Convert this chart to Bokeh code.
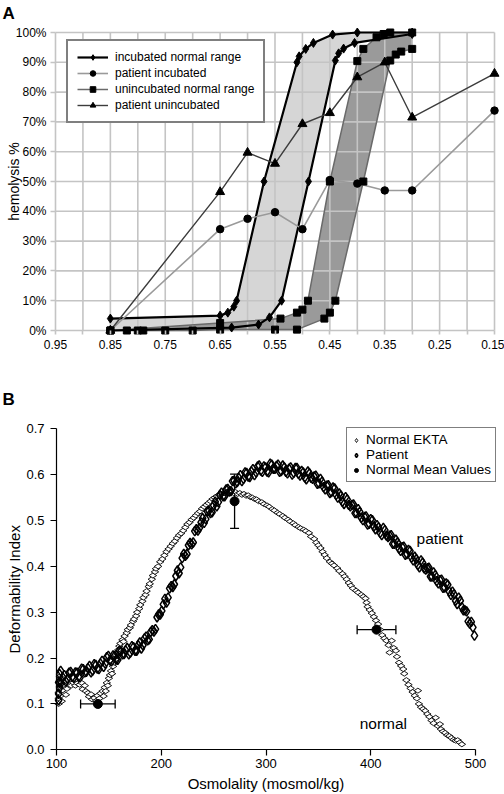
import math
from bokeh.plotting import figure
from bokeh.models import (Range1d, FixedTicker, NumeralTickFormatter, PrintfTickFormatter,
                          ColumnDataSource, Legend, LegendItem, Label, Whisker, TeeHead)
from bokeh.layouts import column
from bokeh.embed import file_html
from bokeh.resources import INLINE

FONT = "Liberation Sans"

# ---------------- Panel A data ----------------
x_label_ticks = [0.95, 0.85, 0.75, 0.65, 0.55, 0.45, 0.35, 0.25, 0.15]
x_grid_ticks = [0.95, 0.90, 0.85, 0.80, 0.75, 0.70, 0.65, 0.60, 0.55, 0.50,
                0.45, 0.40, 0.35, 0.30, 0.25, 0.20, 0.15]
y_ticks_a = [0, 10, 20, 30, 40, 50, 60, 70, 80, 90, 100]

inc_upper_x = [0.85, 0.65, 0.636, 0.625, 0.62, 0.57, 0.51, 0.506, 0.494, 0.48, 0.445, 0.40, 0.30]
inc_upper_y = [4, 5, 6, 8, 10, 50, 90, 92, 94.5, 96.5, 99.3, 100, 100]
inc_lower_x = [0.85, 0.629, 0.58, 0.56, 0.538, 0.489, 0.44, 0.434, 0.425, 0.405, 0.30]
inc_lower_y = [0, 1, 2, 4.4, 10, 50, 90.6, 93, 94.6, 96.5, 99.5]

unin_upper_x = [0.85, 0.65, 0.54, 0.51, 0.50, 0.49, 0.45, 0.40, 0.389, 0.365, 0.352, 0.34, 0.30]
unin_upper_y = [0, 2.5, 4, 6, 7, 10, 50, 90.4, 94.5, 98.4, 99.5, 100, 100]
unin_lower_x = [0.85, 0.82, 0.80, 0.79, 0.75, 0.70, 0.65, 0.55, 0.51, 0.46, 0.45, 0.44,
                0.389, 0.34, 0.33, 0.32, 0.30]
unin_lower_y = [0, 0, 0, 0, 0, 0, 0.3, 0.3, 0.3, 4, 6, 10, 50, 90.6, 92.6, 93.6, 94.5]

pat_inc_x = [0.85, 0.65, 0.60, 0.55, 0.50, 0.45, 0.40, 0.35, 0.30, 0.15]
pat_inc_y = [0, 34, 37.5, 39.7, 34, 50.5, 49.3, 47, 47, 73.8]
pat_uninc_x = [0.85, 0.65, 0.60, 0.55, 0.50, 0.45, 0.40, 0.35, 0.30, 0.15]
pat_uninc_y = [0, 46.5, 59.7, 56, 69.3, 73, 85, 90, 71.5, 86.2]

# ---------------- Panel B data ----------------
x_ticks_b = [100, 200, 300, 400, 500]
y_ticks_b = [0.0, 0.1, 0.2, 0.3, 0.4, 0.5, 0.6, 0.7]

normal_pts = [
    (102, 0.100), (102, 0.112), (102, 0.125), (103, 0.138), (103, 0.150), (103, 0.160),
    (104, 0.118), (105, 0.106), (106, 0.130), (107, 0.142), (109, 0.120), (110, 0.133),
    (112, 0.145), (114, 0.140), (116, 0.146), (118, 0.140), (120, 0.145), (122, 0.142),
    (124, 0.146), (125, 0.132), (127, 0.140), (128, 0.128), (130, 0.124), (131, 0.116),
    (133, 0.121), (134, 0.110), (136, 0.113), (138, 0.107), (139, 0.118), (141, 0.112),
    (142, 0.123), (144, 0.128), (145, 0.117), (146, 0.136), (147, 0.128), (148, 0.146),
    (149, 0.140), (150, 0.156), (151, 0.163), (152, 0.172), (153, 0.166), (154, 0.182),
    (155, 0.190), (156, 0.197), (157, 0.205), (158, 0.212), (159, 0.218), (160, 0.226),
    (161, 0.232), (163, 0.240), (164, 0.236), (165, 0.248), (167, 0.255), (168, 0.262),
    (170, 0.266), (171, 0.272), (173, 0.280), (174, 0.285), (176, 0.292), (177, 0.300),
    (179, 0.308), (180, 0.316), (182, 0.324), (183, 0.332), (185, 0.338), (186, 0.346),
    (188, 0.356), (189, 0.362), (191, 0.372), (192, 0.380), (194, 0.388), (195, 0.395),
    (197, 0.400), (199, 0.410), (201, 0.416), (203, 0.424), (205, 0.432), (207, 0.438),
    (209, 0.444), (211, 0.450), (213, 0.455), (215, 0.462), (217, 0.468), (219, 0.472),
    (221, 0.478), (223, 0.485), (225, 0.492), (227, 0.496), (229, 0.502), (231, 0.506),
    (233, 0.511), (235, 0.516), (237, 0.520), (239, 0.526), (241, 0.530), (243, 0.534),
    (245, 0.538), (247, 0.542), (249, 0.547), (251, 0.550), (253, 0.553), (255, 0.556),
    (257, 0.557), (259, 0.560), (261, 0.559), (263, 0.563), (265, 0.562), (267, 0.564),
    (269, 0.560), (271, 0.562), (273, 0.558), (275, 0.560), (277, 0.556), (279, 0.558),
    (281, 0.554), (283, 0.555), (285, 0.551), (287, 0.550), (289, 0.547), (291, 0.546),
    (293, 0.542), (296, 0.540), (298, 0.536), (301, 0.533), (303, 0.530), (306, 0.525),
    (308, 0.522), (311, 0.517), (313, 0.514), (316, 0.510), (318, 0.506), (321, 0.502),
    (323, 0.498), (326, 0.494), (328, 0.490), (331, 0.486), (333, 0.483), (336, 0.480),
    (338, 0.477), (341, 0.473), (343, 0.465), (346, 0.460), (348, 0.452), (350, 0.446),
    (352, 0.440), (354, 0.432), (356, 0.425), (358, 0.418), (361, 0.410), (363, 0.406),
    (365, 0.402), (368, 0.396), (370, 0.390), (373, 0.384), (375, 0.378), (377, 0.372),
    (379, 0.364), (381, 0.358), (383, 0.352), (386, 0.347), (388, 0.343), (391, 0.338),
    (393, 0.334), (395, 0.330), (396, 0.321), (397, 0.312), (399, 0.305), (401, 0.298),
    (403, 0.290), (405, 0.282), (407, 0.274), (409, 0.262), (411, 0.250), (413, 0.243),
    (415, 0.238), (417, 0.228), (418, 0.212), (420, 0.238), (422, 0.222), (424, 0.216),
    (425, 0.203), (427, 0.190), (429, 0.183), (431, 0.176), (432, 0.166), (434, 0.152),
    (436, 0.142), (438, 0.134), (440, 0.126), (442, 0.118), (444, 0.112), (445, 0.129),
    (446, 0.100), (448, 0.093), (450, 0.089), (452, 0.085), (454, 0.078), (456, 0.072),
    (458, 0.064), (460, 0.058), (462, 0.070), (464, 0.052), (466, 0.056), (467, 0.045),
    (469, 0.040), (471, 0.037), (473, 0.032), (475, 0.030), (477, 0.026), (479, 0.022),
    (481, 0.020), (483, 0.021), (485, 0.016), (487, 0.012),
]

patient_pts = [
    (102, 0.108), (102, 0.122), (103, 0.135), (103, 0.165), (104, 0.172), (102, 0.147),
    (103, 0.146), (106, 0.158), (109, 0.149), (112, 0.168), (115, 0.159), (118, 0.169),
    (121, 0.159), (124, 0.177), (127, 0.169), (130, 0.178), (133, 0.169), (136, 0.187),
    (139, 0.177), (142, 0.188), (145, 0.181), (148, 0.202), (151, 0.195), (154, 0.206),
    (157, 0.197), (160, 0.216), (163, 0.208), (166, 0.217), (169, 0.208), (172, 0.226),
    (175, 0.216), (178, 0.228), (181, 0.221), (184, 0.243), (187, 0.239), (190, 0.257),
    (193, 0.258), (196, 0.289), (199, 0.295), (202, 0.317), (205, 0.321), (208, 0.352),
    (211, 0.355), (214, 0.379), (217, 0.385), (220, 0.418), (223, 0.423), (226, 0.446),
    (229, 0.448), (232, 0.477), (235, 0.478), (238, 0.496), (241, 0.495), (244, 0.520),
    (247, 0.516), (250, 0.533), (253, 0.531), (256, 0.556), (259, 0.553), (262, 0.568),
    (265, 0.563), (268, 0.586), (271, 0.581), (274, 0.593), (277, 0.586), (280, 0.605),
    (283, 0.596), (286, 0.607), (289, 0.599), (292, 0.618), (295, 0.609), (298, 0.618),
    (301, 0.607), (304, 0.624), (307, 0.613), (310, 0.619), (313, 0.606), (316, 0.620),
    (319, 0.606), (322, 0.613), (325, 0.600), (328, 0.615), (331, 0.602), (334, 0.608),
    (337, 0.594), (340, 0.607), (343, 0.593), (346, 0.596), (349, 0.580), (352, 0.591),
    (355, 0.573), (358, 0.576), (361, 0.560), (364, 0.572), (367, 0.556), (370, 0.559),
    (373, 0.541), (376, 0.551), (379, 0.534), (382, 0.534), (385, 0.516), (388, 0.525),
    (391, 0.506), (394, 0.508), (397, 0.491), (400, 0.503), (403, 0.487), (406, 0.490),
    (409, 0.473), (412, 0.484), (415, 0.467), (418, 0.467), (421, 0.449), (424, 0.458),
    (427, 0.439), (430, 0.442), (433, 0.425), (436, 0.436), (439, 0.419), (442, 0.421),
    (445, 0.403), (448, 0.413), (451, 0.396), (454, 0.396), (457, 0.378), (460, 0.387),
    (463, 0.368), (466, 0.370), (469, 0.353), (472, 0.363), (475, 0.345), (478, 0.345),
    (481, 0.325), (484, 0.332), (487, 0.311), (490, 0.304), (493, 0.280), (496, 0.279),
    (499, 0.249),
    (104.5, 0.146), (107.5, 0.163), (110.5, 0.155), (113.5, 0.170), (116.5, 0.157),
    (119.5, 0.168), (122.5, 0.158), (125.5, 0.176), (128.5, 0.170), (131.5, 0.183),
    (134.5, 0.173), (137.5, 0.185), (140.5, 0.176), (143.5, 0.194), (146.5, 0.188),
    (149.5, 0.205), (152.5, 0.193), (155.5, 0.205), (158.5, 0.196), (161.5, 0.215),
    (164.5, 0.209), (167.5, 0.222), (170.5, 0.212), (173.5, 0.224), (176.5, 0.216),
    (179.5, 0.234), (182.5, 0.228), (185.5, 0.247), (188.5, 0.241), (191.5, 0.261),
    (194.5, 0.263), (197.5, 0.295), (200.5, 0.303), (203.5, 0.329), (206.5, 0.332),
    (209.5, 0.357), (212.5, 0.361), (215.5, 0.391), (218.5, 0.398), (221.5, 0.427),
    (224.5, 0.427), (227.5, 0.451), (230.5, 0.452), (233.5, 0.481), (236.5, 0.484),
    (239.5, 0.505), (242.5, 0.503), (245.5, 0.521), (248.5, 0.518), (251.5, 0.541),
    (254.5, 0.540), (257.5, 0.561), (260.5, 0.553), (263.5, 0.569), (266.5, 0.564),
    (269.5, 0.587), (272.5, 0.584), (275.5, 0.599), (278.5, 0.591), (281.5, 0.604),
    (284.5, 0.595), (287.5, 0.612), (290.5, 0.605), (293.5, 0.620), (296.5, 0.606),
    (299.5, 0.616), (302.5, 0.605), (305.5, 0.622), (308.5, 0.613), (311.5, 0.622),
    (314.5, 0.608), (317.5, 0.616), (320.5, 0.603), (323.5, 0.616), (326.5, 0.604),
    (329.5, 0.615), (332.5, 0.598), (335.5, 0.605), (338.5, 0.590), (341.5, 0.603),
    (344.5, 0.591), (347.5, 0.598), (350.5, 0.581), (353.5, 0.585), (356.5, 0.568),
    (359.5, 0.577), (362.5, 0.562), (365.5, 0.570), (368.5, 0.550), (371.5, 0.554),
    (374.5, 0.536), (377.5, 0.546), (380.5, 0.531), (383.5, 0.535), (386.5, 0.516),
    (389.5, 0.519), (392.5, 0.501), (395.5, 0.509), (398.5, 0.493), (401.5, 0.501),
    (404.5, 0.481), (407.5, 0.485), (410.5, 0.468), (413.5, 0.479), (416.5, 0.464),
    (419.5, 0.468), (422.5, 0.449), (425.5, 0.452), (428.5, 0.434), (431.5, 0.443),
    (434.5, 0.427), (437.5, 0.434), (440.5, 0.413), (443.5, 0.416), (446.5, 0.398),
    (449.5, 0.408), (452.5, 0.393), (455.5, 0.397), (458.5, 0.378), (461.5, 0.381),
    (464.5, 0.363), (467.5, 0.371), (470.5, 0.354), (473.5, 0.360), (476.5, 0.338),
    (479.5, 0.339), (482.5, 0.318), (485.5, 0.325), (488.5, 0.304), (491.5, 0.302),
    (494.5, 0.275), (497.5, 0.267),
]

mean_osm = [139.5, 270, 405.5]
mean_di = [0.100, 0.542, 0.262]
mean_osm_err = [16.5, 0, 18.5]
mean_di_err = [0, 0.059, 0]

# ======================= Panel A =======================
# The frame covers the whole figure; axes are pinned inside it with fixed_location.
pA = figure(frame_width=504, frame_height=356, x_range=Range1d(1.0502, 0.1318),
            y_range=Range1d(-8.72, 110.74), output_backend="svg", toolbar_location=None,
            title=None, min_border=0)
pA.xgrid.visible = False
pA.ygrid.visible = False
pA.outline_line_color = None
pA.background_fill_color = "white"
pA.border_fill_color = "white"

GRID_C = "#c4c4c4"
pA.patch(inc_upper_x + inc_lower_x[::-1], inc_upper_y + inc_lower_y[::-1],
         fill_color="#d6d6d6", line_color=None)
pA.patch(unin_upper_x + unin_lower_x[::-1], unin_upper_y + unin_lower_y[::-1],
         fill_color="#9a9a9a", line_color=None)
pA.segment(x0=x_grid_ticks, y0=[0] * len(x_grid_ticks), x1=x_grid_ticks,
           y1=[100] * len(x_grid_ticks), line_color=GRID_C, line_width=1.6)
pA.segment(x0=[0.95] * len(y_ticks_a), y0=y_ticks_a, x1=[0.15] * len(y_ticks_a),
           y1=y_ticks_a, line_color=GRID_C, line_width=1.6)

UN_C = "#6a6a6a"
r_un_line = pA.line(unin_upper_x, unin_upper_y, line_color=UN_C, line_width=1.5)
pA.line(unin_lower_x, unin_lower_y, line_color=UN_C, line_width=1.5)
r_inc_line = pA.line(inc_upper_x, inc_upper_y, line_color="black", line_width=2.2)
pA.line(inc_lower_x, inc_lower_y, line_color="black", line_width=2.2)
r_pi_line = pA.line(pat_inc_x, pat_inc_y, line_color="#9a9a9a", line_width=1.6)
r_pu_line = pA.line(pat_uninc_x, pat_uninc_y, line_color="#3c3c3c", line_width=1.4)

r_un_pts = pA.scatter(unin_upper_x, unin_upper_y, marker="square", size=7, color="black")
pA.scatter(unin_lower_x, unin_lower_y, marker="square", size=7, color="black")
r_inc_pts = pA.scatter(inc_upper_x, inc_upper_y, marker="diamond", size=9, color="black")
pA.scatter(inc_lower_x, inc_lower_y, marker="diamond", size=9, color="black")
r_pi_pts = pA.scatter(pat_inc_x, pat_inc_y, marker="circle", size=7.5, color="black")
r_pu_pts = pA.scatter(pat_uninc_x, pat_uninc_y, marker="triangle", size=9, color="black")

for ax in (pA.xaxis[0], pA.yaxis[0]):
    ax.axis_line_color = None
    ax.major_tick_line_color = GRID_C
    ax.major_tick_line_width = 1.6
    ax.minor_tick_line_color = GRID_C
    ax.minor_tick_line_width = 1.6
    ax.major_tick_in = 0
    ax.minor_tick_in = 0
    ax.major_label_text_font = FONT
    ax.major_label_text_font_size = "12px"
    ax.major_label_text_color = "black"
pA.xaxis[0].fixed_location = 0
pA.xaxis[0].ticker = FixedTicker(ticks=x_label_ticks,
                                 minor_ticks=[t for t in x_grid_ticks if t not in x_label_ticks])
pA.xaxis[0].formatter = NumeralTickFormatter(format="0.00")
pA.xaxis[0].major_tick_out = 4
pA.xaxis[0].minor_tick_out = 4
pA.xaxis[0].major_label_standoff = 5
pA.yaxis[0].fixed_location = 0.95
pA.yaxis[0].ticker = FixedTicker(ticks=y_ticks_a, minor_ticks=[])
pA.yaxis[0].formatter = PrintfTickFormatter(format="%d%%")
pA.yaxis[0].major_tick_out = 5
pA.yaxis[0].minor_tick_out = 0
pA.yaxis[0].major_label_standoff = 4

pA.add_layout(Label(x=1.0247, y=50, text="hemolysis %", angle=math.pi / 2,
                    text_align="center", text_baseline="middle", text_font=FONT,
                    text_font_size="14px", text_color="black"))
pA.add_layout(Label(x=1.0466, y=106.5, text="A", text_align="left", text_baseline="middle",
                    text_font=FONT, text_font_size="17px", text_font_style="bold",
                    text_color="black"))

legA = Legend(items=[
    LegendItem(label="incubated normal range", renderers=[r_inc_line, r_inc_pts]),
    LegendItem(label="patient incubated", renderers=[r_pi_line, r_pi_pts]),
    LegendItem(label="unincubated normal range", renderers=[r_un_line, r_un_pts]),
    LegendItem(label="patient unincubated", renderers=[r_pu_line, r_pu_pts]),
], location=(66, 233), orientation="vertical", padding=9, spacing=2, margin=0,
    glyph_width=31, glyph_height=14, label_height=14, label_standoff=7,
    label_text_font=FONT, label_text_font_size="12px", label_text_color="black",
    border_line_color="black", border_line_width=2, background_fill_color="white",
    background_fill_alpha=1.0)
pA.add_layout(legA)

# ======================= Panel B =======================
pB = figure(frame_width=504, frame_height=436, x_range=Range1d(46.54, 527.68),
            y_range=Range1d(-0.0931, 0.8577), output_backend="svg", toolbar_location=None,
            title=None, min_border=0)
pB.xgrid.visible = False
pB.ygrid.visible = False
pB.outline_line_color = None
pB.background_fill_color = "white"
pB.border_fill_color = "white"

n_osm = [p[0] for p in normal_pts]
n_di = [p[1] for p in normal_pts]
pt_osm = [p[0] for p in patient_pts]
pt_di = [p[1] for p in patient_pts]

r_norm = pB.scatter(n_osm, n_di, marker="diamond", angle=math.pi / 2, size=7.5,
                    line_color="black", line_width=0.9, fill_color="white")
r_pat = pB.scatter(pt_osm, pt_di, marker="diamond", size=9.5,
                   line_color="black", line_width=1.5, fill_color=None)

h_idx = [i for i in range(len(mean_osm)) if mean_osm_err[i] > 0]
v_idx = [i for i in range(len(mean_osm)) if mean_di_err[i] > 0]
src_h = ColumnDataSource(dict(base=[mean_di[i] for i in h_idx],
                              lower=[mean_osm[i] - mean_osm_err[i] for i in h_idx],
                              upper=[mean_osm[i] + mean_osm_err[i] for i in h_idx]))
src_v = ColumnDataSource(dict(base=[mean_osm[i] for i in v_idx],
                              lower=[mean_di[i] - mean_di_err[i] for i in v_idx],
                              upper=[mean_di[i] + mean_di_err[i] for i in v_idx]))
for src, dim in ((src_h, "width"), (src_v, "height")):
    pB.add_layout(Whisker(source=src, base="base", lower="lower", upper="upper",
                          dimension=dim, line_color="black", line_width=1.3,
                          lower_head=TeeHead(size=9, line_color="black", line_width=1.3),
                          upper_head=TeeHead(size=9, line_color="black", line_width=1.3)))
r_mean = pB.scatter(mean_osm, mean_di, marker="circle", size=9, color="black")

for ax in (pB.xaxis[0], pB.yaxis[0]):
    ax.axis_line_color = "black"
    ax.axis_line_width = 1.2
    ax.major_tick_line_color = "black"
    ax.major_tick_line_width = 1.2
    ax.major_tick_out = 6
    ax.major_tick_in = 0
    ax.minor_tick_line_color = None
    ax.major_label_text_font = FONT
    ax.major_label_text_font_size = "13px"
    ax.major_label_text_color = "black"
pB.xaxis[0].fixed_location = 0
pB.xaxis[0].bounds = (100, 500)
pB.xaxis[0].ticker = FixedTicker(ticks=x_ticks_b)
pB.xaxis[0].major_label_standoff = 3
pB.yaxis[0].fixed_location = 100
pB.yaxis[0].bounds = (0, 0.7)
pB.yaxis[0].ticker = FixedTicker(ticks=y_ticks_b)
pB.yaxis[0].formatter = NumeralTickFormatter(format="0.0")
pB.yaxis[0].major_label_standoff = 6

pB.add_layout(Label(x=59.9, y=0.35, text="Deformability Index", angle=math.pi / 2,
                    text_align="center", text_baseline="middle", text_font=FONT,
                    text_font_size="15px", text_color="black"))
pB.add_layout(Label(x=300, y=-0.0735, text="Osmolality (mosmol/kg)", text_align="center",
                    text_baseline="middle", text_font=FONT, text_font_size="15px",
                    text_color="black"))
pB.add_layout(Label(x=48.45, y=0.765, text="B", text_align="left", text_baseline="middle",
                    text_font=FONT, text_font_size="17px", text_font_style="bold",
                    text_color="black"))
pB.add_layout(Label(x=466, y=0.461, text="patient", text_align="center",
                    text_baseline="middle", text_font=FONT, text_font_size="15.5px",
                    text_color="black"))
pB.add_layout(Label(x=412, y=0.057, text="normal", text_align="center",
                    text_baseline="middle", text_font=FONT, text_font_size="15.5px",
                    text_color="black"))

legB = Legend(items=[
    LegendItem(label="Normal EKTA", renderers=[r_norm]),
    LegendItem(label="Patient", renderers=[r_pat]),
    LegendItem(label="Normal Mean Values", renderers=[r_mean]),
], location=(346, 310), orientation="vertical", padding=4, spacing=0, margin=0,
    glyph_width=10, glyph_height=14, label_height=14, label_standoff=5,
    label_text_font=FONT, label_text_font_size="13.5px", label_text_color="black",
    border_line_color="black", border_line_width=1.5, background_fill_color="white",
    background_fill_alpha=1.0)
pB.add_layout(legB)

layout = column(pA, pB)
open("out.html", "w").write(file_html(layout, INLINE))
